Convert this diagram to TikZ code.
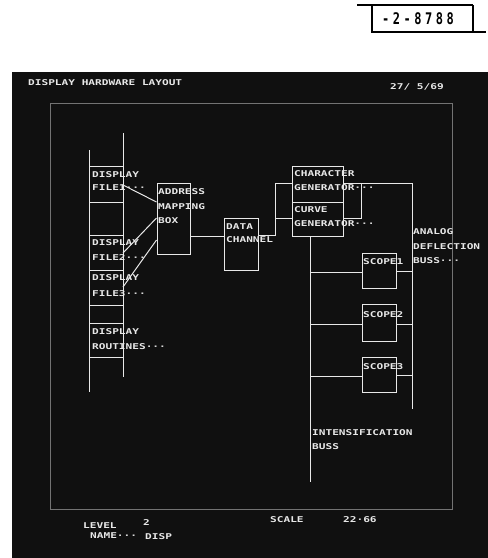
\documentclass[tikz,border=0pt]{standalone}
\usepackage{fontspec}
\newfontfamily\crtfont[FakeStretch=1.39]{DejaVu Sans Mono}
\newfontfamily\tagfont[FakeStretch=0.75,LetterSpace=22]{DejaVu Sans Mono}
\definecolor{crt}{RGB}{232,232,232}
\definecolor{framegrey}{RGB}{115,115,115}
\definecolor{screen}{RGB}{16,16,16}
\begin{document}
\begin{tikzpicture}[x=1pt,y=-1pt,
  crttext/.style={anchor=west,inner sep=0,text=crt,font=\crtfont\bfseries\fontsize{8}{8}\selectfont},
  wire/.style={draw=crt,line width=1pt},
  unit/.style={draw=crt,line width=1pt,inner sep=0,rectangle},
]
\useasboundingbox (0,0) rectangle (488,558);
\fill[white] (0,0) rectangle (488,558);
\fill[screen] (12,72) rectangle (488,558);

% tag at top right
\draw[black,line width=1.3pt] (357,5) -- (473,5);
\draw[black,line width=1.3pt] (372,5) -- (372,32) -- (486,32);
\draw[black,line width=1.3pt] (473,5) -- (473,32);
\node[anchor=west,inner sep=0,font=\tagfont\bfseries\fontsize{16}{16}\selectfont] (tag) at (382,19) {-2-8788};

% screen frame
\draw[framegrey,line width=0.7pt] (50,103) rectangle (452,509);

% header / footer texts
\node[crttext] (title) at (28,83) {DISPLAY HARDWARE LAYOUT};
\node[crttext] (date) at (390,87) {27/ 5/69};
\node[crttext] (level) at (83,526) {LEVEL};
\node[crttext] (levelno) at (143,523) {2};
\node[crttext] (name) at (90,536) {NAME···};
\node[crttext] (disp) at (145,537) {DISP};
\node[crttext] (scale) at (270,520) {SCALE};
\node[crttext] (scaleval) at (343,520) {22·66};

% memory column
\draw[wire] (89,150) -- (89,392);
\draw[wire] (123,133) -- (123,377);
\foreach \y in {166,202,235,270,305,323,357} \draw[wire] (89,\y) -- (123,\y);
\node[crttext] (d1a) at (92,175) {DISPLAY};
\node[crttext] (d1b) at (92,188) {FILE1···};
\node[crttext] (d2a) at (92,243) {DISPLAY};
\node[crttext] (d2b) at (92,258) {FILE2···};
\node[crttext] (d3a) at (92,278) {DISPLAY};
\node[crttext] (d3b) at (92,294) {FILE3···};
\node[crttext] (d4a) at (92,332) {DISPLAY};
\node[crttext] (d4b) at (92,347) {ROUTINES···};

% boxes
\node[unit,minimum width=33pt,minimum height=71pt] (addr) at (173.5,218.5) {};
\node[unit,minimum width=34pt,minimum height=52pt] (data) at (241,244) {};
\node[unit,minimum width=51pt,minimum height=36pt] (chargen) at (317.5,184) {};
\node[unit,minimum width=51pt,minimum height=34pt] (curvegen) at (317.5,219) {};
\node[unit,minimum width=34pt,minimum height=35pt] (scope1) at (379,270.5) {};
\node[unit,minimum width=34pt,minimum height=37pt] (scope2) at (379,322.5) {};
\node[unit,minimum width=34pt,minimum height=35pt] (scope3) at (379,374.5) {};

\node[crttext] (addrt1) at (158,192) {ADDRESS};
\node[crttext] (addrt2) at (158,207) {MAPPING};
\node[crttext] (addrt3) at (158,221) {BOX};
\node[crttext] (datat1) at (226,227) {DATA};
\node[crttext] (datat2) at (226,240) {CHANNEL};
\node[crttext] (chart1) at (294,174) {CHARACTER};
\node[crttext] (chart2) at (294,188) {GENERATOR···};
\node[crttext] (curvet1) at (294,210) {CURVE};
\node[crttext] (curvet2) at (294,224) {GENERATOR···};
\node[crttext] (s1t) at (363,262) {SCOPE1};
\node[crttext] (s2t) at (363,315) {SCOPE2};
\node[crttext] (s3t) at (363,367) {SCOPE3};
\node[crttext] (an1) at (413,232) {ANALOG};
\node[crttext] (an2) at (413,247) {DEFLECTION};
\node[crttext] (an3) at (413,261) {BUSS···};
\node[crttext] (in1) at (312,433) {INTENSIFICATION};
\node[crttext] (in2) at (312,447) {BUSS};

% connection points
\coordinate (f1) at (123,185);
\coordinate (f2) at (123,253);
\coordinate (f3) at (123,287);
\coordinate (split) at (275,235);
\coordinate (join) at (361,183);
\coordinate (abustop) at (412,183);
\coordinate (abusbot) at (412,409);
\coordinate (ibusbot) at (310,482);

% connectors
\draw[wire] (f1) -- (addr.west |- 0,202);
\draw[wire] (f2) -- (addr.west |- 0,218);
\draw[wire] (f3) -- (addr.west |- 0,240);
\draw[wire] (addr.east |- 0,236) -- (data.west |- 0,236);
\draw[wire] (data.east |- split) -- (split) -- (split |- 0,183) -- (chargen.west |- 0,183);
\draw[wire] (split |- 0,218) -- (curvegen.west |- 0,218);
\draw[wire] (chargen.east |- join) -- (abustop) -- (abusbot);
\draw[wire] (curvegen.east |- 0,218) -- (join |- 0,218) -- (join);
\draw[wire] (curvegen.south -| ibusbot) -- (ibusbot);
\draw[wire] (ibusbot |- 0,272) -- (scope1.west |- 0,272);
\draw[wire] (scope1.east |- 0,271) -- (abustop |- 0,271);
\draw[wire] (ibusbot |- 0,324) -- (scope2.west |- 0,324);
\draw[wire] (scope2.east |- 0,324) -- (abustop |- 0,324);
\draw[wire] (ibusbot |- 0,376) -- (scope3.west |- 0,376);
\draw[wire] (scope3.east |- 0,375) -- (abustop |- 0,375);
\end{tikzpicture}
\end{document}
